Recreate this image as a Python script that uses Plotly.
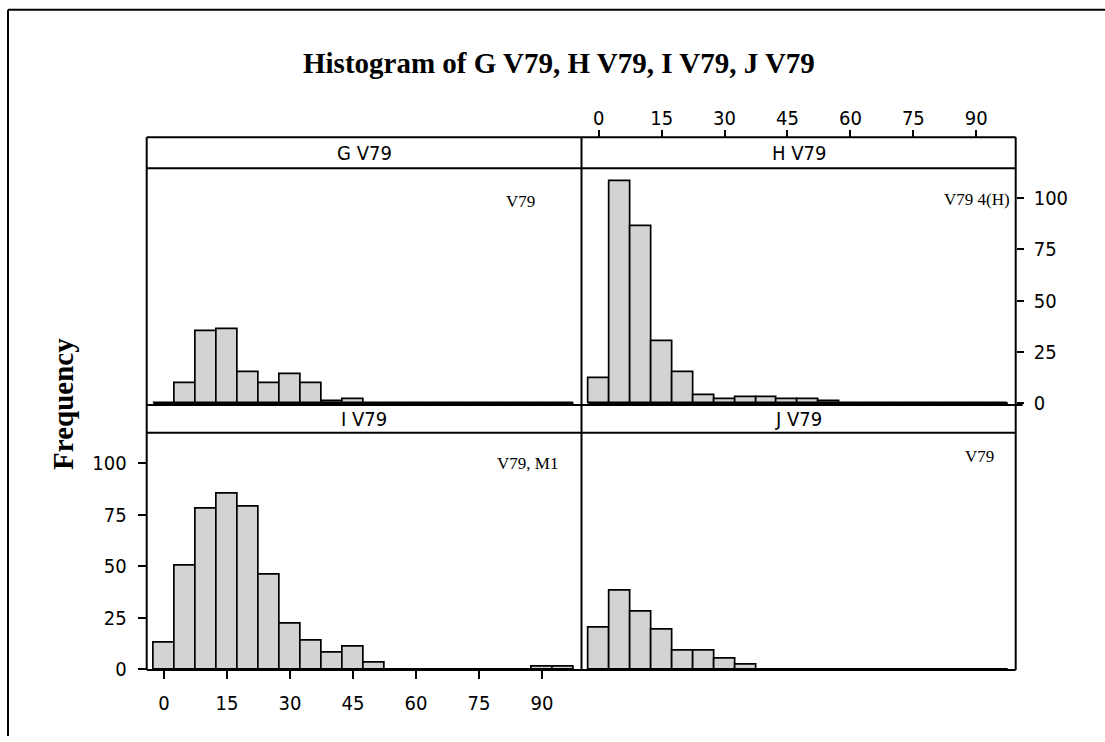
import plotly.graph_objects as go

# ---------------- data ----------------
bin_centers = [0, 5, 10, 15, 20, 25, 30, 35, 40, 45, 50, 55, 60, 65, 70, 75, 80, 85, 90, 95]
g_counts = [0, 10, 35, 36, 15, 10, 14, 10, 1, 2, 0, 0, 0, 0, 0, 0, 0, 0, 0, 0]
h_counts = [12, 108, 86, 30, 15, 4, 2, 3, 3, 2, 2, 1, 0, 0, 0, 0, 0, 0, 0, 0]
i_counts = [13, 50, 78, 85, 79, 46, 22, 14, 8, 11, 3, 0, 0, 0, 0, 0, 0, 0, 1, 1]
j_counts = [20, 38, 28, 19, 9, 9, 5, 2, 0, 0, 0, 0, 0, 0, 0, 0, 0, 0, 0, 0]
panel_names = ["G V79", "H V79", "I V79", "J V79"]
panel_notes = ["V79", "V79 4(H)", "V79, M1", "V79"]
x_ticks = [0, 15, 30, 45, 60, 75, 90]
y_ticks = [0, 25, 50, 75, 100]
bin_width = 5

W, H = 1105, 742


def px(x):
    return x / W


def py(y):
    return 1 - y / H


# layout geometry (pixels)
XL0, XM, XR1 = 146.7, 581.5, 1015.7
STRIP_T, PLOT_T1, PLOT_B1 = 139.3, 170.7, 411.0
STRIP_B, PLOT_T2, PLOT_B2 = 411.0, 439.3, 680.0

x_range = [-4.1, 99.4]
y_range_top = [-0.8, 114.4]
y_range_bot = [-0.3, 114.7]

tick_font = dict(family="Tahoma, 'DejaVu Sans Condensed', 'DejaVu Sans', sans-serif", size=20, color="black")
serif = "'Liberation Serif', 'Times New Roman', serif"

fig = go.Figure()

all_counts = [g_counts, h_counts, i_counts, j_counts]
axes = [("x", "y"), ("x2", "y2"), ("x3", "y3"), ("x4", "y4")]
for counts, (xa, ya) in zip(all_counts, axes):
    fig.add_trace(go.Bar(
        x=bin_centers, y=counts, width=bin_width,
        marker=dict(color="#d3d3d3", line=dict(color="black", width=1.7)),
        xaxis=xa, yaxis=ya, showlegend=False, hoverinfo="x+y",
    ))
    fig.add_trace(go.Scatter(
        x=[bin_centers[0] - bin_width / 2, bin_centers[-1] + bin_width / 2], y=[0, 0],
        mode="lines", line=dict(color="black", width=2.6),
        xaxis=xa, yaxis=ya, showlegend=False, hoverinfo="skip",
    ))

hidden = dict(showgrid=False, zeroline=False, showline=False, showticklabels=False, ticks="")
common_tick = dict(showgrid=False, zeroline=False, showline=False, ticks="outside",
                   tickcolor="black", tickwidth=1.6, tickfont=tick_font)

fig.update_layout(
    width=W, height=H,
    margin=dict(l=0, r=0, t=0, b=0),
    paper_bgcolor="white", plot_bgcolor="white",
    bargap=0,
    xaxis=dict(domain=[px(XL0), px(XM)], range=x_range, anchor="y", **hidden),
    yaxis=dict(domain=[py(PLOT_B1), py(PLOT_T1)], range=y_range_top, anchor="x", **hidden),
    xaxis2=dict(domain=[px(XM), px(XR1)], range=x_range, anchor="free", position=py(STRIP_T),
                side="top", tickvals=x_ticks, ticklen=7, ticklabelstandoff=-3, **common_tick),
    yaxis2=dict(domain=[py(PLOT_B1), py(PLOT_T1)], range=y_range_top, anchor="x2",
                side="right", tickvals=y_ticks, ticklen=7, ticklabelstandoff=6, **common_tick),
    xaxis3=dict(domain=[px(XL0), px(XM)], range=x_range, anchor="y3",
                side="bottom", tickvals=x_ticks, ticklen=8, ticklabelstandoff=7, **common_tick),
    yaxis3=dict(domain=[py(PLOT_B2), py(PLOT_T2)], range=y_range_bot, anchor="x3",
                side="left", tickvals=y_ticks, ticklen=8, ticklabelstandoff=7, **common_tick),
    xaxis4=dict(domain=[px(XM), px(XR1)], range=x_range, anchor="y4", **hidden),
    yaxis4=dict(domain=[py(PLOT_B2), py(PLOT_T2)], range=y_range_bot, anchor="x4", **hidden),
)

shapes = []


def seg(x0, y0, x1, y1, w=2):
    shapes.append(dict(type="line", xref="paper", yref="paper",
                       x0=px(x0), y0=py(y0), x1=px(x1), y1=py(y1),
                       line=dict(color="black", width=w)))


# outer figure border (top and left)
seg(8, 10, W + 5, 10, 2)
seg(8, 10, 8, H + 5, 2)
# panel grid
seg(XL0, STRIP_T, XR1, STRIP_T)
seg(XL0, PLOT_T1, XR1, PLOT_T1)
seg(XL0, PLOT_B1, XR1 + 7, PLOT_B1)
seg(XL0, PLOT_T2, XR1, PLOT_T2)
seg(XL0, PLOT_B2, XR1, PLOT_B2)
seg(XL0, STRIP_T, XL0, PLOT_B2)
seg(XM, STRIP_T, XM, PLOT_B2)
seg(XR1, STRIP_T, XR1, PLOT_B2)
fig.update_layout(shapes=shapes)

annotations = []
# strip labels
strip_centers = [((XL0 + XM) / 2, (STRIP_T + PLOT_T1) / 2), ((XM + XR1) / 2, (STRIP_T + PLOT_T1) / 2),
                 ((XL0 + XM) / 2, (STRIP_B + PLOT_T2) / 2), ((XM + XR1) / 2, (STRIP_B + PLOT_T2) / 2)]
for name, (cx, cy) in zip(panel_names, strip_centers):
    annotations.append(dict(text=name, xref="paper", yref="paper", x=px(cx), y=py(cy),
                            xanchor="center", yanchor="middle", showarrow=False,
                            font=tick_font))
# in-panel notes (right aligned)
note_pos = [(537, 205), (1012, 203), (560, 470.5), (996, 463)]
for note, (nx, ny) in zip(panel_notes, note_pos):
    annotations.append(dict(text=note, xref="paper", yref="paper", x=px(nx), y=py(ny),
                            xanchor="right", yanchor="middle", showarrow=False,
                            font=dict(family=serif, size=17, color="black")))
# title
annotations.append(dict(text="<b>Histogram of G V79, H V79, I V79, J V79</b>", xref="paper", yref="paper",
                        x=px(559), y=py(64), xanchor="center", yanchor="middle", showarrow=False,
                        font=dict(family=serif, size=29, color="black")))
# y label
annotations.append(dict(text="<b>Frequency</b>", xref="paper", yref="paper",
                        x=px(63), y=py(410), xanchor="center", yanchor="middle", showarrow=False,
                        textangle=-90, font=dict(family=serif, size=29, color="black")))
fig.update_layout(annotations=annotations)

fig.write_html("out.html")
